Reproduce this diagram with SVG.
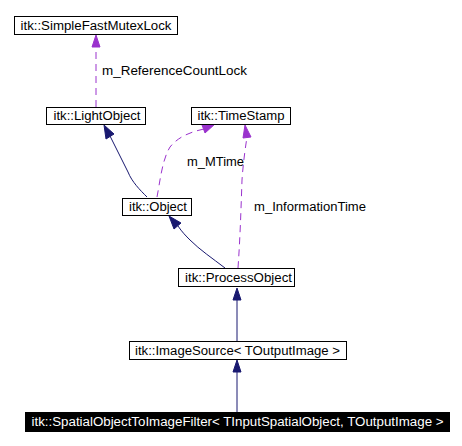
<svg xmlns="http://www.w3.org/2000/svg" width="462" height="446" viewBox="0 0 462 446">
<style>
text{font-family:"Liberation Sans",Arial,sans-serif;font-size:12px;fill:#000}
.box{fill:#fff;stroke:#000;stroke-width:1}
.inh{fill:none;stroke:#191970;stroke-width:1}
.use{fill:none;stroke:#9a32cd;stroke-width:1;stroke-dasharray:7,5}
.ha{fill:#191970;stroke:#191970}
.hu{fill:#9a32cd;stroke:#9a32cd}
</style>
<rect width="462" height="446" fill="#fff"/>
<g id="connectors">
<path class="use" d="M96,107 L96,46"/>
<polygon class="hu" points="96,35 92,47 100,47"/>
<text x="102" y="75" textLength="145" lengthAdjust="spacingAndGlyphs">m_ReferenceCountLock</text>
<path class="inh" d="M147,197 C140,190 132,182 128,172 C122,160 116,148 110,136"/>
<polygon class="ha" points="104,125 106,139 114,134"/>
<path class="use" d="M157,197 C160,182 162,160 170,147 C178,137 190,132 204,129"/>
<polygon class="hu" points="215,124 202,125 205,133"/>
<text x="187" y="166" textLength="57" lengthAdjust="spacingAndGlyphs">m_MTime</text>
<path class="use" d="M238,268 C240,240 241,210 242,180 C243,165 245,150 247,137"/>
<polygon class="hu" points="245,125 243,138 251,137"/>
<text x="254" y="211" textLength="112" lengthAdjust="spacingAndGlyphs">m_InformationTime</text>
<path class="inh" d="M225,268 C212,258 200,250 190,240 C186,236 182,232 178,226"/>
<polygon class="ha" points="169,216 174,229 181,223"/>
<path class="inh" d="M237,341 L237,298"/>
<polygon class="ha" points="237,288 233,300 241,300"/>
<path class="inh" d="M237,412 L237,370"/>
<polygon class="ha" points="237,360 233,372 241,372"/>
</g>
<g id="node-sfml">
<rect class="box" x="14.5" y="16.5" width="163" height="18"/>
<text x="96" y="30" text-anchor="middle" textLength="151" lengthAdjust="spacingAndGlyphs">itk::SimpleFastMutexLock</text>
</g>
<g id="node-lightobject">
<rect class="box" x="46.5" y="107.5" width="99" height="17"/>
<text x="97" y="120" text-anchor="middle" textLength="87" lengthAdjust="spacingAndGlyphs">itk::LightObject</text>
</g>
<g id="node-timestamp">
<rect class="box" x="191.5" y="107.5" width="99" height="17"/>
<text x="241" y="120" text-anchor="middle" textLength="87" lengthAdjust="spacingAndGlyphs">itk::TimeStamp</text>
</g>
<g id="node-object">
<rect class="box" x="122.5" y="198.5" width="69" height="17"/>
<text x="158" y="211" text-anchor="middle" textLength="58" lengthAdjust="spacingAndGlyphs">itk::Object</text>
</g>
<g id="node-processobject">
<rect class="box" x="178.5" y="268.5" width="116" height="18"/>
<text x="238.5" y="282" text-anchor="middle" textLength="107" lengthAdjust="spacingAndGlyphs">itk::ProcessObject</text>
</g>
<g id="node-imagesource">
<rect class="box" x="129.5" y="341.5" width="217" height="18"/>
<text x="237.5" y="355" text-anchor="middle" textLength="205" lengthAdjust="spacingAndGlyphs">itk::ImageSource&lt; TOutputImage &gt;</text>
</g>
<g id="node-filter">
<rect x="25" y="412" width="425" height="20" fill="#000"/>
<text x="237.5" y="426" text-anchor="middle" textLength="412" lengthAdjust="spacingAndGlyphs" style="fill:#fff">itk::SpatialObjectToImageFilter&lt; TInputSpatialObject, TOutputImage &gt;</text>
</g>
</svg>
